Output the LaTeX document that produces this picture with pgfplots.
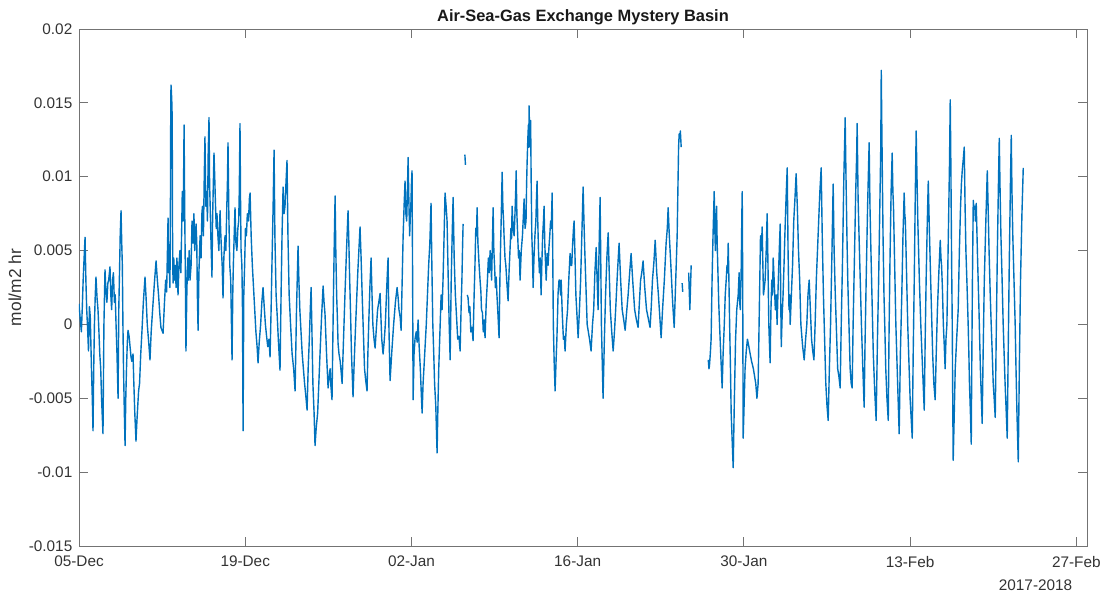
\documentclass[border=0pt]{standalone}
\usepackage{fontspec}
\setmainfont{Liberation Sans}
\usepackage{pgfplots}
\pgfplotsset{compat=1.18}
\definecolor{mblue}{rgb}{0,0.447,0.741}
\definecolor{axgray}{gray}{0.45}
\definecolor{txtgray}{gray}{0.2}
\begin{document}
\begin{tikzpicture}
\begin{axis}[
  scale only axis,
  width=756pt, height=387.75pt,
  xmin=0, xmax=84.9, ymin=-0.015, ymax=0.02,
  axis line style={axgray, line width=0.6pt},
  tick style={axgray, line width=0.6pt},
  tick align=inside,
  major tick length=6.75pt,
  scaled y ticks=false,
  xtick={0,14,28,42,56,70,84},
  xticklabels={05-Dec,19-Dec,02-Jan,16-Jan,30-Jan,13-Feb,27-Feb},
  ytick={-0.015,-0.01,-0.005,0,0.005,0.01,0.015,0.02},
  yticklabels={-0.015,-0.01,-0.005,0,0.005,0.01,0.015,0.02},
  ticklabel style={font=\fontsize{11.5}{13}\selectfont, text=txtgray},
  xticklabel style={yshift=-4pt},
  yticklabel style={xshift=-1.5pt},
  title={Air-Sea-Gas Exchange Mystery Basin},
  title style={font=\bfseries\fontsize{12.3}{14}\selectfont, text=black!90, at={(0.5,1)}, anchor=base, inner sep=0pt, yshift=0pt},
  ylabel={mol/m2 hr},
  ylabel style={font=\fontsize{13}{15}\selectfont, text=txtgray, at={(axis description cs:-0.0635,0.5)}, anchor=center},
  unbounded coords=jump,
  clip mode=individual,
]
\addplot[mblue, line width=1.05pt, line join=round] coordinates {
(0.00,0.0014)(0.10,0.0004)(0.20,-0.0005)(0.28,0.0012)(0.35,0.0030)(0.43,0.0045)(0.51,0.0059)(0.58,0.0030)(0.65,0.0010)(0.72,-0.0002)(0.80,-0.0018)(0.88,0.0012)(0.95,0.0005)(1.05,-0.0030)(1.12,-0.0050)(1.18,-0.0072)(1.24,-0.0030)(1.30,0.0000)(1.37,0.0020)(1.43,0.0032)(1.52,0.0018)(1.60,0.0010)(1.68,-0.0005)(1.75,-0.0020)(1.83,-0.0030)(1.90,-0.0050)(2.02,-0.0074)(2.10,0.0000)(2.19,0.0037)(2.27,0.0022)(2.35,0.0015)(2.43,0.0028)(2.50,0.0030)(2.61,0.0039)(2.68,0.0020)(2.75,0.0010)(2.83,0.0030)(2.90,0.0035)(2.98,0.0015)(3.05,0.0020)(3.12,0.0000)(3.20,-0.0020)(3.29,-0.0050)(3.35,0.0010)(3.40,0.0030)(3.47,0.0060)(3.54,0.0077)(3.60,0.0055)(3.65,0.0040)(3.70,0.0000)(3.75,-0.0030)(3.82,-0.0060)(3.88,-0.0082)(3.94,-0.0050)(4.00,-0.0030)(4.07,-0.0012)(4.13,-0.0004)(4.22,-0.0008)(4.30,-0.0015)(4.38,-0.0022)(4.45,-0.0025)(4.55,-0.0020)(4.62,-0.0040)(4.70,-0.0060)(4.80,-0.0079)(4.88,-0.0065)(4.95,-0.0055)(5.02,-0.0045)(5.10,-0.0040)(5.20,-0.0020)(5.30,-0.0005)(5.42,0.0015)(5.56,0.0032)(5.65,0.0018)(5.75,0.0000)(5.87,-0.0012)(5.98,-0.0024)(6.08,-0.0005)(6.20,0.0010)(6.35,0.0028)(6.49,0.0043)(6.60,0.0030)(6.70,0.0020)(6.80,0.0008)(6.90,-0.0002)(7.08,-0.0006)
(7.20,0.0015)(7.30,0.0030)(7.38,0.0022)(7.45,0.0050)(7.50,0.0072)(7.55,0.0035)(7.60,0.0040)(7.66,0.0025)(7.70,0.0080)(7.73,0.0150)(7.75,0.0162)(7.78,0.0158)(7.82,0.0150)(7.85,0.0140)(7.88,0.0060)(7.92,0.0028)(7.98,0.0045)(8.05,0.0030)(8.10,0.0040)(8.18,0.0025)(8.25,0.0045)(8.34,0.0020)(8.42,0.0040)(8.50,0.0050)(8.58,0.0035)(8.65,0.0065)(8.70,0.0090)(8.78,0.0070)(8.85,0.0135)(8.90,0.0080)(8.95,0.0040)(9.01,-0.0018)(9.08,0.0020)(9.15,0.0045)(9.20,0.0030)(9.28,0.0050)(9.35,0.0030)(9.44,0.0040)(9.52,0.0070)(9.60,0.0055)(9.68,0.0075)(9.75,0.0050)(9.86,0.0068)(9.92,0.0055)(9.97,0.0020)(10.03,-0.0004)(10.10,0.0035)(10.20,0.0060)(10.28,0.0045)(10.35,0.0075)(10.40,0.0080)(10.48,0.0060)(10.55,0.0100)(10.61,0.0127)(10.68,0.0080)(10.75,0.0090)(10.82,0.0070)(10.88,0.0115)(10.95,0.0140)(11.00,0.0095)(11.05,0.0080)(11.12,0.0055)(11.20,0.0032)(11.25,0.0070)(11.30,0.0090)(11.37,0.0116)(11.43,0.0100)(11.50,0.0080)(11.56,0.0065)(11.62,0.0075)(11.70,0.0060)(11.78,0.0050)(11.88,0.0077)(11.94,0.0062)(12.00,0.0050)(12.06,0.0040)(12.13,0.0018)(12.20,0.0045)(12.30,0.0060)(12.37,0.0050)(12.45,0.0080)(12.50,0.0095)(12.55,0.0123)(12.62,0.0075)(12.70,0.0040)(12.78,0.0030)(12.89,-0.0024)(12.95,0.0020)(13.00,0.0040)(13.07,0.0060)(13.14,0.0079)(13.22,0.0055)(13.30,0.0050)(13.38,0.0065)(13.45,0.0070)(13.50,0.0090)(13.56,0.0136)(13.61,0.0080)(13.65,0.0050)(13.72,0.0040)(13.77,0.0010)(13.82,-0.0072)(13.88,0.0020)(13.95,0.0040)(14.02,0.0065)(14.10,0.0060)(14.18,0.0075)(14.28,0.0070)(14.35,0.0085)(14.41,0.0089)(14.50,0.0060)(14.60,0.0040)
(14.70,0.0025)(14.80,0.0010)(14.90,-0.0005)(15.00,-0.0015)(15.08,-0.0026)(15.18,-0.0012)(15.30,0.0000)(15.40,0.0015)(15.50,0.0025)(15.60,0.0012)(15.70,0.0000)(15.80,-0.0008)(15.90,-0.0015)(16.00,-0.0010)(16.09,-0.0022)(16.18,0.0010)(16.25,0.0040)(16.35,0.0080)(16.43,0.0118)(16.50,0.0060)(16.60,0.0020)(16.70,0.0005)(16.80,-0.0012)(16.93,-0.0031)(17.02,0.0020)(17.10,0.0060)(17.19,0.0093)(17.27,0.0075)(17.35,0.0080)(17.43,0.0095)(17.52,0.0111)(17.60,0.0060)(17.70,0.0020)(17.82,0.0000)(17.95,-0.0020)(18.08,-0.0030)(18.20,-0.0045)(18.32,0.0010)(18.45,0.0053)(18.52,0.0030)(18.60,0.0010)(18.70,-0.0005)(18.80,-0.0020)(18.90,-0.0030)(19.00,-0.0040)(19.10,-0.0048)(19.21,-0.0058)(19.30,-0.0030)(19.40,-0.0010)(19.48,0.0010)(19.55,0.0025)(19.62,-0.0005)(19.70,-0.0040)(19.80,-0.0060)(19.88,-0.0082)(19.98,-0.0070)(20.10,-0.0060)(20.20,-0.0040)(20.30,-0.0020)(20.43,0.0005)(20.56,0.0026)(20.64,0.0015)(20.72,0.0007)(20.85,-0.0020)(20.98,-0.0043)
(21.07,-0.0035)(21.15,-0.0030)(21.22,-0.0042)(21.31,-0.0051)(21.38,-0.0010)(21.45,0.0030)(21.51,0.0060)(21.57,0.0087)(21.63,0.0050)(21.70,0.0020)(21.76,0.0005)(21.82,-0.0013)(21.90,-0.0020)(22.00,-0.0025)(22.08,-0.0032)(22.16,-0.0040)(22.28,-0.0010)(22.40,0.0020)(22.53,0.0050)(22.66,0.0077)(22.73,0.0055)(22.80,0.0030)(22.88,0.0005)(22.95,-0.0020)(23.02,-0.0035)(23.08,-0.0049)(23.18,-0.0025)(23.30,0.0000)(23.48,0.0035)(23.67,0.0066)(23.76,0.0045)(23.85,0.0020)(23.95,-0.0005)(24.05,-0.0030)(24.15,-0.0038)(24.26,-0.0045)(24.33,-0.0020)(24.40,0.0000)(24.50,0.0025)(24.60,0.0045)(24.68,0.0020)(24.75,0.0000)(24.85,-0.0010)(24.94,-0.0016)(25.05,-0.0002)(25.15,0.0010)(25.25,0.0015)(25.36,0.0021)(25.43,0.0005)(25.50,-0.0010)(25.61,-0.0020)(25.70,-0.0012)(25.80,0.0000)(25.92,0.0025)(26.03,0.0045)(26.07,0.0020)(26.10,0.0000)(26.15,-0.0020)(26.20,-0.0038)(26.35,-0.0018)
(26.50,0.0000)(26.65,0.0015)(26.79,0.0025)(26.88,0.0018)(26.95,0.0010)(27.05,0.0005)(27.13,-0.0004)(27.22,0.0030)(27.30,0.0060)(27.38,0.0080)(27.46,0.0097)(27.53,0.0075)(27.60,0.0070)(27.66,0.0090)(27.72,0.0113)(27.78,0.0085)(27.85,0.0060)(27.90,0.0072)(27.95,0.0080)(28.00,0.0095)(28.05,0.0104)(28.10,0.0030)(28.14,-0.0051)(28.22,-0.0020)(28.30,-0.0010)(28.40,-0.0005)(28.48,-0.0012)(28.56,0.0003)(28.65,-0.0015)(28.75,-0.0030)(28.82,-0.0045)(28.90,-0.0060)(28.98,-0.0040)(29.05,-0.0030)(29.15,-0.0015)(29.25,0.0000)(29.35,0.0020)(29.45,0.0040)(29.55,0.0055)(29.65,0.0082)(29.72,0.0040)(29.80,0.0000)(29.88,-0.0020)(29.95,-0.0040)(30.05,-0.0055)(30.16,-0.0087)(30.22,-0.0060)(30.30,-0.0030)(30.40,-0.0005)(30.50,0.0020)(30.58,0.0010)(30.66,0.0030)(30.75,0.0060)(30.83,0.0089)(30.92,0.0080)(31.00,0.0070)(31.10,0.0030)(31.18,0.0000)(31.26,-0.0024)(31.35,0.0030)(31.43,0.0060)(31.51,0.0086)(31.60,0.0045)(31.70,0.0020)(31.80,0.0005)(31.90,-0.0010)(32.00,-0.0008)(32.10,-0.0018)(32.18,0.0010)(32.25,0.0030)(32.30,0.0050)(32.35,0.0068)(32.45,nan)(32.50,0.0115)(32.55,0.0108)(32.60,nan)(32.70,0.0020)
(32.77,0.0018)(32.85,0.0008)(32.92,0.0012)(33.00,-0.0005)(33.10,-0.0002)(33.19,-0.0011)(33.28,0.0020)(33.35,0.0040)(33.42,0.0065)(33.48,0.0060)(33.53,0.0079)(33.60,0.0055)(33.70,0.0040)(33.78,0.0030)(33.85,0.0022)(33.90,0.0010)(33.98,0.0008)(34.05,-0.0005)(34.12,0.0003)(34.20,-0.0009)(34.30,0.0015)(34.40,0.0030)(34.48,0.0045)(34.55,0.0035)(34.63,0.0050)(34.70,0.0040)(34.75,0.0030)(34.82,0.0055)(34.88,0.0079)(34.94,0.0050)(35.00,0.0040)(35.07,0.0025)(35.14,0.0032)(35.20,0.0020)(35.28,0.0008)(35.38,-0.0009)(35.45,0.0030)(35.50,0.0050)(35.57,0.0075)(35.64,0.0103)(35.70,0.0080)(35.76,0.0070)(35.80,0.0060)(35.88,0.0045)(35.95,0.0040)(36.04,0.0028)(36.14,0.0016)(36.22,0.0035)(36.30,0.0050)(36.38,0.0065)(36.43,0.0058)(36.48,0.0080)(36.56,0.0065)(36.65,0.0060)(36.72,0.0075)(36.78,0.0090)(36.82,0.0104)(36.88,0.0075)(36.95,0.0060)(37.02,0.0045)(37.08,0.0050)(37.15,0.0030)(37.25,0.0050)(37.35,0.0060)(37.42,0.0072)(37.49,0.0085)(37.57,0.0065)(37.65,0.0070)(37.70,0.0095)(37.74,0.0109)(37.80,0.0125)(37.85,0.0135)(37.88,0.0120)(37.91,0.0148)(37.95,0.0130)(38.00,0.0120)(38.04,0.0138)(38.08,0.0100)(38.14,0.0060)(38.20,0.0045)(38.25,0.0025)(38.32,0.0045)(38.40,0.0060)(38.48,0.0070)(38.53,0.0085)(38.58,0.0097)(38.64,0.0070)(38.70,0.0050)(38.78,0.0035)(38.85,0.0045)(38.92,0.0020)(38.98,0.0040)(39.05,0.0060)(39.12,0.0070)(39.17,0.0080)(39.23,0.0055)(39.30,0.0040)(39.35,0.0030)(39.43,0.0048)(39.51,0.0040)(39.58,0.0052)(39.65,0.0060)(39.72,0.0070)(39.78,0.0065)(39.85,0.0089)(39.90,0.0050)(39.95,0.0000)(40.02,-0.0025)(40.10,-0.0045)(40.18,-0.0025)(40.25,-0.0010)(40.30,0.0005)(40.35,0.0021)(40.43,0.0030)(40.50,0.0030)(40.56,0.0020)(40.61,0.0030)(40.70,0.0008)(40.80,-0.0010)(40.87,-0.0008)(40.94,-0.0018)(41.05,0.0000)(41.15,0.0010)(41.25,0.0030)(41.36,0.0048)(41.43,0.0040)(41.50,0.0040)(41.58,0.0055)(41.65,0.0065)(41.70,0.0070)(41.78,0.0045)(41.85,0.0020)(41.95,0.0005)
(42.04,-0.0009)(42.15,0.0010)(42.25,0.0030)(42.35,0.0060)(42.46,0.0093)(42.53,0.0070)(42.60,0.0050)(42.70,0.0025)(42.80,0.0000)(42.90,-0.0005)(43.00,-0.0010)(43.13,-0.0018)(43.25,0.0000)(43.35,0.0010)(43.45,0.0035)(43.56,0.0052)(43.64,0.0030)(43.72,0.0010)(43.80,0.0050)(43.89,0.0086)(43.95,0.0040)(44.00,0.0000)(44.07,-0.0025)(44.14,-0.0050)(44.25,-0.0010)(44.35,0.0020)(44.46,0.0045)(44.57,0.0062)(44.66,0.0035)(44.75,0.0010)(44.87,-0.0005)(44.99,-0.0018)(45.10,-0.0005)(45.20,0.0010)(45.35,0.0035)(45.49,0.0055)(45.62,0.0030)(45.75,0.0010)(45.88,0.0003)(46.00,-0.0004)(46.12,0.0008)(46.25,0.0020)(46.38,0.0035)(46.50,0.0048)(46.65,0.0028)(46.80,0.0010)(46.95,0.0003)(47.09,-0.0002)(47.20,0.0015)(47.30,0.0030)(47.40,0.0035)(47.51,0.0043)(47.65,0.0025)(47.80,0.0010)(47.95,0.0004)(48.10,-0.0002)(48.20,0.0012)(48.30,0.0030)(48.42,0.0042)(48.53,0.0057)(48.66,0.0035)(48.80,0.0020)(48.92,0.0005)(49.03,-0.0009)(49.15,0.0010)(49.30,0.0030)(49.45,0.0055)(49.55,0.0065)(49.62,0.0079)(49.72,0.0060)(49.85,0.0040)(50.00,0.0015)(50.13,-0.0002)(50.22,0.0020)(50.30,0.0040)(50.38,0.0060)(50.44,0.0090)(50.50,0.0120)(50.55,0.0129)(50.60,0.0126)(50.65,0.0131)(50.72,0.0120)(50.75,nan)(50.80,0.0028)(50.85,0.0022)(50.90,nan)(51.35,0.0035)(51.45,0.0010)(51.56,0.0040)(51.60,nan)
(53.00,-0.0024)(53.06,-0.0030)(53.10,-0.0028)(53.17,-0.0020)(53.24,-0.0010)(53.32,0.0030)(53.40,0.0060)(53.45,0.0075)(53.50,0.0090)(53.55,0.0065)(53.60,0.0050)(53.65,0.0072)(53.70,0.0080)(53.75,0.0055)(53.80,0.0040)(53.88,0.0015)(53.95,0.0000)(54.05,-0.0020)(54.17,-0.0043)(54.25,-0.0020)(54.35,0.0000)(54.43,0.0020)(54.51,0.0030)(54.58,0.0040)(54.63,0.0035)(54.68,0.0055)(54.74,0.0030)(54.80,0.0000)(54.87,-0.0030)(54.93,-0.0060)(55.02,-0.0080)(55.10,-0.0097)(55.20,-0.0050)(55.30,-0.0010)(55.40,0.0010)(55.52,0.0020)(55.60,0.0035)(55.65,0.0015)(55.70,0.0010)(55.78,0.0040)(55.83,0.0075)(55.86,0.0090)(55.90,0.0030)(55.94,-0.0077)(56.00,-0.0060)(56.10,-0.0030)(56.20,-0.0018)(56.30,-0.0010)(56.42,-0.0015)(56.53,-0.0020)(56.65,-0.0025)(56.80,-0.0030)(56.90,-0.0035)(57.00,-0.0040)(57.10,-0.0050)(57.20,-0.0040)(57.30,0.0010)(57.40,0.0060)(57.47,0.0050)(57.54,0.0066)(57.60,0.0040)(57.65,0.0020)(57.72,0.0025)(57.79,0.0030)(57.88,0.0050)(57.96,0.0075)(58.03,0.0040)(58.10,0.0000)(58.15,-0.0012)(58.21,-0.0026)(58.28,0.0010)(58.35,0.0030)(58.41,0.0020)(58.47,0.0045)(58.55,0.0030)(58.65,0.0010)(58.72,0.0020)(58.80,0.0000)(58.90,0.0030)(58.98,0.0050)(59.06,0.0068)(59.10,0.0020)(59.15,-0.0015)(59.22,0.0005)(59.30,0.0020)(59.38,0.0040)(59.45,0.0060)(59.55,0.0085)(59.65,0.0106)(59.72,0.0050)(59.80,0.0010)(59.85,0.0020)(59.90,0.0000)(60.00,0.0020)(60.10,0.0040)(60.20,0.0070)(60.30,0.0085)(60.40,0.0102)(60.50,0.0080)(60.60,0.0050)(60.70,0.0030)(60.80,0.0000)(60.95,-0.0015)(61.08,-0.0024)(61.20,-0.0010)(61.30,0.0000)(61.40,0.0020)(61.50,0.0030)(61.60,0.0010)(61.70,-0.0010)(61.80,-0.0018)(61.90,-0.0024)(62.00,0.0000)(62.10,0.0030)(62.20,0.0050)(62.30,0.0070)(62.40,0.0090)(62.51,0.0106)(62.60,0.0060)(62.70,0.0020)(62.80,-0.0010)(62.90,-0.0040)(63.00,-0.0055)(63.10,-0.0065)
(63.20,-0.0030)(63.30,0.0000)(63.42,0.0050)(63.52,0.0095)(63.60,0.0050)(63.70,0.0020)(63.80,-0.0005)(63.90,-0.0030)(64.00,-0.0035)(64.11,-0.0043)(64.20,0.0000)(64.30,0.0040)(64.42,0.0100)(64.50,0.0128)(64.53,0.0140)(64.60,0.0100)(64.68,0.0060)(64.75,0.0030)(64.85,0.0000)(64.95,-0.0030)(65.04,-0.0040)(65.12,-0.0043)(65.20,0.0000)(65.30,0.0040)(65.42,0.0090)(65.50,0.0115)(65.54,0.0136)(65.62,0.0085)(65.70,0.0060)(65.80,0.0030)(65.90,0.0000)(66.02,-0.0030)(66.13,-0.0056)(66.20,-0.0015)(66.30,0.0030)(66.42,0.0080)(66.55,0.0123)(66.62,0.0080)(66.70,0.0050)(66.80,0.0015)(66.90,-0.0020)(67.02,-0.0045)(67.14,-0.0065)(67.25,-0.0010)(67.35,0.0030)(67.45,0.0080)(67.53,0.0120)(67.57,0.0172)(67.61,0.0140)(67.65,0.0110)(67.72,0.0060)(67.80,0.0020)(67.88,-0.0005)(67.95,-0.0030)(68.05,-0.0050)(68.16,-0.0065)(68.22,-0.0010)(68.30,0.0040)(68.40,0.0090)(68.49,0.0116)(68.55,0.0090)(68.60,0.0080)(68.70,0.0040)(68.80,0.0000)(68.95,-0.0040)(69.08,-0.0074)(69.18,-0.0020)(69.30,0.0020)(69.40,0.0060)(69.50,0.0089)(69.55,0.0075)(69.60,0.0070)(69.70,0.0035)(69.80,0.0000)(69.90,-0.0025)(70.00,-0.0050)(70.10,-0.0065)(70.18,-0.0077)(70.26,-0.0020)(70.35,0.0030)(70.44,0.0090)(70.51,0.0131)(70.58,0.0100)(70.65,0.0070)(70.78,0.0030)(70.90,0.0000)(71.05,-0.0030)(71.19,-0.0058)(71.27,-0.0010)(71.35,0.0030)(71.45,0.0070)(71.53,0.0097)(71.62,0.0065)(71.70,0.0040)(71.80,0.0010)(71.90,-0.0020)(72.00,-0.0040)(72.11,-0.0051)(72.20,-0.0020)(72.30,0.0010)(72.42,0.0035)(72.54,0.0057)(72.60,0.0045)(72.65,0.0040)(72.72,0.0025)(72.80,0.0000)(72.88,-0.0015)(72.95,-0.0030)(73.02,-0.0010)(73.10,0.0000)(73.22,0.0060)(73.32,0.0110)(73.38,0.0152)(73.42,0.0120)(73.45,0.0090)(73.50,0.0040)(73.55,0.0000)(73.59,-0.0050)(73.63,-0.0092)
(73.72,-0.0060)(73.80,-0.0030)(73.92,-0.0010)(74.05,0.0010)(74.15,0.0050)(74.25,0.0080)(74.32,0.0095)(74.39,0.0104)(74.48,0.0112)(74.56,0.0120)(74.63,0.0080)(74.70,0.0050)(74.80,0.0025)(74.89,0.0000)(74.95,-0.0020)(75.00,-0.0040)(75.08,-0.0060)(75.15,-0.0081)(75.20,-0.0020)(75.25,0.0030)(75.32,0.0084)(75.38,0.0078)(75.45,0.0080)(75.50,0.0070)(75.57,0.0082)(75.68,0.0045)(75.80,0.0010)(75.92,-0.0030)(76.07,-0.0067)(76.15,-0.0020)(76.25,0.0030)(76.38,0.0070)(76.50,0.0104)(76.57,0.0080)(76.65,0.0050)(76.75,0.0020)(76.83,0.0000)(76.92,-0.0020)(77.00,-0.0040)(77.08,-0.0050)(77.17,-0.0063)(77.25,-0.0010)(77.35,0.0050)(77.44,0.0095)(77.51,0.0126)(77.58,0.0090)(77.65,0.0060)(77.75,0.0030)(77.84,0.0000)(77.92,-0.0020)(78.00,-0.0040)(78.10,-0.0060)(78.18,-0.0077)(78.26,-0.0020)(78.35,0.0040)(78.45,0.0095)(78.52,0.0128)(78.58,0.0090)(78.65,0.0060)(78.75,0.0030)(78.85,0.0000)(78.92,-0.0030)(79.00,-0.0060)(79.06,-0.0078)(79.11,-0.0093)(79.20,-0.0030)(79.30,0.0030)(79.42,0.0075)(79.53,0.0106)
};
\node[anchor=base east, font=\fontsize{11.5}{13}\selectfont, text=txtgray] at (rel axis cs:0.99,0) [yshift=-33pt] {2017-2018};
\end{axis}
\pgfresetboundingbox
\path (-59.25pt,-36pt) rectangle (769.5pt,409.5pt);
\end{tikzpicture}
\end{document}
